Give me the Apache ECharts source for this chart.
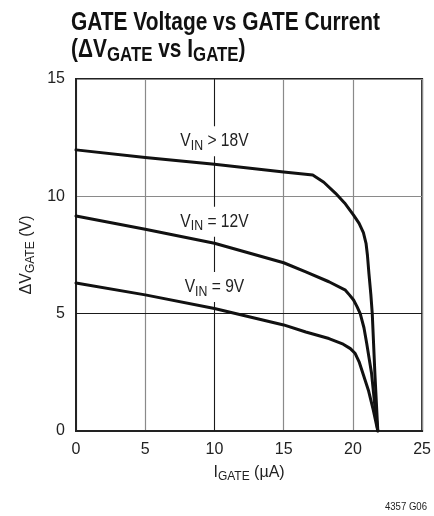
<!DOCTYPE html>
<html><head><meta charset="utf-8">
<script src="https://cdn.jsdelivr.net/npm/echarts@6/dist/echarts.min.js"></script>
<style>html,body{margin:0;padding:0;background:#fff}#c{width:434px;height:516px}</style>
</head><body><div id="c"></div>
<script>
// ---- data ----
const xTicks = [0, 5, 10, 15, 20, 25];
const yTicks = [0, 5, 10, 15];
const seriesNames = ['VIN > 18V', 'VIN = 12V', 'VIN = 9V'];
const vin18 = [[0,11.98],[5,11.65],[10,11.37],[15,11.04],[17.1,10.91],[17.9,10.6],[18.75,10.13],[19.4,9.72],[20.05,9.2],[20.45,8.85],[20.76,8.45],[20.95,8.0],[21.05,7.5],[21.16,6.71],[21.3,5.8],[21.4,5.0],[21.59,2.45],[21.8,0]];
const vin12 = [[0,9.16],[5,8.6],[10,8.0],[15,7.17],[16.6,6.78],[18.27,6.36],[19.46,6.0],[19.75,5.8],[20.05,5.58],[20.3,5.3],[20.53,5.0],[20.8,4.4],[21.0,3.73],[21.35,2.45],[21.6,1.0],[21.8,0]];
const vin9 = [[0,6.31],[5,5.8],[10,5.22],[15,4.52],[16.6,4.22],[18.27,3.94],[19.3,3.7],[19.82,3.51],[20.17,3.3],[20.45,2.95],[20.65,2.59],[21.12,1.74],[21.48,0.88],[21.8,0]];
const darkGridX = [10];
const darkGridY = [5];
const labelX = [10, 10, 10];
const labelY = [12.35, 8.92, 6.14];
const labelSuffix = ['> 18V', '= 12V', '= 9V'];
const titleLine1 = 'GATE Voltage vs GATE Current';
const xName = ['I', 'GATE', ' (µA)'];
const yName = ['ΔV', 'GATE', ' (V)'];
const footnote = '4357 G06';

const REG = '"Liberation Sans", Arial, sans-serif';
const NARROW_SCALE = 0.82;

const chart = echarts.init(document.getElementById('c'), null, {renderer: 'canvas'});
const lineStyle = {color: '#111', width: 3, cap: 'round', join: 'round'};
function curve(name, data) {
  return {name, type: 'line', data, showSymbol: false, symbol: 'none', smooth: false,
    lineStyle, z: 3, silent: true};
}
const subRich = {
  m: {fontFamily: REG, fontSize: 16, lineHeight: 18, color: '#222'},
  s: {fontFamily: REG, fontSize: 12, lineHeight: 10, padding: [8, 0, 0, 0], color: '#222'}
};
const option = {
  animation: false,
  backgroundColor: '#fff',
  grid: {left: 76, right: 6, top: 79, bottom: 85, show: true, borderColor: '#222', borderWidth: 2, containLabel: false},
  xAxis: {
    type: 'value', min: xTicks[0], max: xTicks[xTicks.length - 1], interval: 5,
    axisLine: {show: true, lineStyle: {color: '#222', width: 2}},
    axisTick: {show: false},
    axisLabel: {fontFamily: REG, fontSize: 16, color: '#222', margin: 11},
    splitLine: {show: true, lineStyle: {color: '#8a8a8a', width: 1.2}},
    name: '{m|' + xName[0] + '}{s|' + xName[1] + '}{m|' + xName[2] + '}',
    nameLocation: 'middle', nameGap: 31,
    nameTextStyle: {rich: subRich}
  },
  yAxis: {
    type: 'value', min: yTicks[0], max: yTicks[yTicks.length - 1], interval: 5,
    axisLine: {show: true, lineStyle: {color: '#222', width: 2}},
    axisTick: {show: false},
    axisLabel: {fontFamily: REG, fontSize: 16, color: '#222', margin: 11},
    splitLine: {show: true, lineStyle: {color: '#8a8a8a', width: 1.2}},
    name: '{m|' + yName[0] + '}{s|' + yName[1] + '}{m|' + yName[2] + '}',
    nameLocation: 'middle', nameGap: 40, nameRotate: 90,
    nameTextStyle: {rich: subRich}
  },
  series: [
    {
      name: 'darkGrid', type: 'line', data: [], z: 1, silent: true, symbol: 'none',
      markLine: {
        z: 1, silent: true, symbol: ['none', 'none'], label: {show: false}, animation: false,
        lineStyle: {color: '#1a1a1a', width: 1, type: 'solid'},
        data: darkGridX.map(v => ({xAxis: v})).concat(darkGridY.map(v => ({yAxis: v})))
      }
    },
    curve(seriesNames[0], vin18),
    curve(seriesNames[1], vin12),
    curve(seriesNames[2], vin9)
  ]
};
chart.setOption(option);

// title, footnote and curve labels (labels placed through the chart's own scales)
const graphics = [];
graphics.push({
  type: 'text', x: 71, y: 9.5, scaleX: NARROW_SCALE, z: 100, silent: true,
  style: {
    x: 0, y: 0, align: 'left', verticalAlign: 'top',
    text: '{b|' + titleLine1 + '}\n{b|(ΔV}{s|GATE}{b| vs I}{s|GATE}{b|)}',
    rich: {
      b: {fontFamily: REG, fontWeight: 'bold', fontSize: 25.5, lineHeight: 27, fill: '#111', color: '#111'},
      s: {fontFamily: REG, fontWeight: 'bold', fontSize: 20.5, lineHeight: 16, padding: [10, 0, 0, 0], fill: '#111', color: '#111'}
    }
  }
});
graphics.push({
  type: 'text', x: 427, y: 507, scaleX: NARROW_SCALE, z: 100, silent: true,
  style: {x: 0, y: 0, align: 'right', verticalAlign: 'middle', text: footnote,
    font: '11.7px ' + REG, fill: '#222'}
});
labelX.forEach((x, i) => {
  const p = chart.convertToPixel({xAxisIndex: 0, yAxisIndex: 0}, [x, labelY[i]]);
  graphics.push({
    type: 'text', x: p[0], y: p[1], scaleX: NARROW_SCALE, z: 2, silent: true,
    style: {
      x: 0, y: 0, align: 'center', verticalAlign: 'middle',
      text: '{m|V}{s|IN}{m| ' + labelSuffix[i] + '}',
      backgroundColor: '#fff', padding: [5, 5],
      rich: {
        m: {fontFamily: REG, fontSize: 19, lineHeight: 20, fill: '#222', color: '#222'},
        s: {fontFamily: REG, fontSize: 15, lineHeight: 10, padding: [9, 0, 0, 0], fill: '#222', color: '#222'}
      }
    }
  });
});
chart.setOption({graphic: {elements: graphics}});
</script></body></html>
